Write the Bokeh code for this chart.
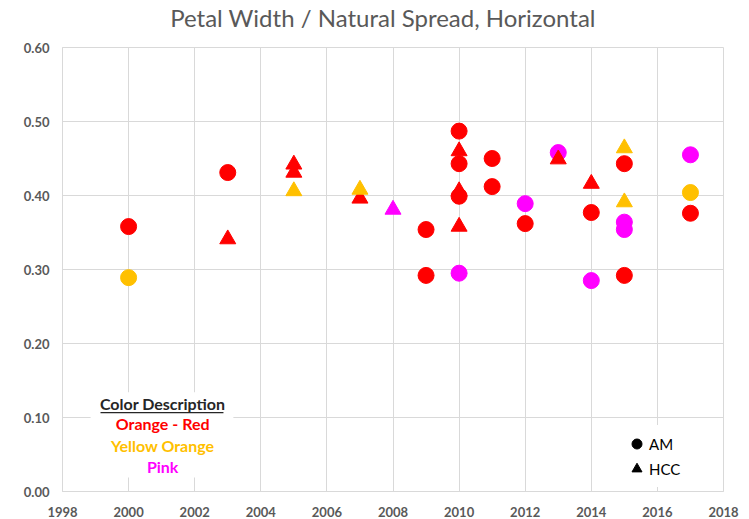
from bokeh.plotting import figure
from bokeh.models import (Label, BoxAnnotation, Legend, LegendItem,
                          FixedTicker, NumeralTickFormatter, Range1d)
from bokeh.embed import file_html
from bokeh.resources import INLINE

TITLE = "Petal Width / Natural Spread, Horizontal"

# AM (circles)
am_red_year = [2000, 2003, 2009, 2009, 2010, 2010, 2010, 2011, 2011, 2012, 2014, 2015, 2015, 2017]
am_red_val = [0.358, 0.431, 0.354, 0.292, 0.487, 0.443, 0.399, 0.450, 0.412, 0.362, 0.377, 0.443, 0.292, 0.376]
am_yellow_year = [2000, 2017]
am_yellow_val = [0.289, 0.404]
am_pink_year = [2010, 2012, 2013, 2014, 2015, 2015, 2017]
am_pink_val = [0.295, 0.389, 0.458, 0.285, 0.364, 0.354, 0.455]

# HCC (triangles)
hcc_red_year = [2003, 2005, 2005, 2007, 2010, 2010, 2010, 2013, 2014]
hcc_red_val = [0.341, 0.442, 0.431, 0.396, 0.460, 0.406, 0.358, 0.449, 0.416]
hcc_yellow_year = [2005, 2007, 2015, 2015]
hcc_yellow_val = [0.406, 0.408, 0.464, 0.391]
hcc_pink_year = [2008]
hcc_pink_val = [0.381]

x_ticks = [1998, 2000, 2002, 2004, 2006, 2008, 2010, 2012, 2014, 2016, 2018]
y_ticks = [0.0, 0.1, 0.2, 0.3, 0.4, 0.5, 0.6]

color_names = ["Orange - Red", "Yellow Orange", "Pink"]
RED, YELLOW, PINK = "#FF0000", "#FFC000", "#FF00FF"
colors = [RED, YELLOW, PINK]

GRID = "#D9D9D9"
TXT = "#595959"
FONT = "Lato"

p = figure(width=749, height=519, output_backend="svg", toolbar_location=None,
           x_range=Range1d(1998, 2018), y_range=Range1d(0, 0.6),
           min_border_left=62, min_border_right=26, min_border_top=47, min_border_bottom=28,
           title=TITLE, background_fill_color="white", border_fill_color="white")

p.title.text_font = FONT
p.title.text_font_size = "24px"
p.title.text_font_style = "normal"
p.title.text_color = TXT
p.title.align = "center"
p.title.standoff = 0
p.title.padding = (0, 20, 0, 16)

p.outline_line_color = GRID
for ax in (p.xaxis[0], p.yaxis[0]):
    ax.axis_line_color = GRID
    ax.major_tick_line_color = None
    ax.minor_tick_line_color = None
    ax.major_tick_out = 0
    ax.major_tick_in = 0
    ax.major_label_text_font = FONT
    ax.major_label_text_font_size = "13px"
    ax.major_label_text_font_style = "bold"
    ax.major_label_text_color = TXT
p.xaxis[0].ticker = FixedTicker(ticks=x_ticks)
p.yaxis[0].ticker = FixedTicker(ticks=y_ticks)
p.yaxis[0].formatter = NumeralTickFormatter(format="0.00")
p.xaxis[0].major_label_standoff = 15
p.yaxis[0].major_label_standoff = 13
p.xgrid.grid_line_color = GRID
p.ygrid.grid_line_color = GRID

# white background behind the colour key
p.add_layout(BoxAnnotation(left=1998.85, right=2003.17, bottom=0.019, top=0.134,
                           fill_color="white", fill_alpha=1, line_color=None, level="underlay"))

S = 16
for yrs, vals, c in [(am_red_year, am_red_val, RED), (am_yellow_year, am_yellow_val, YELLOW),
                     (am_pink_year, am_pink_val, PINK)]:
    p.scatter(x=yrs, y=vals, marker="circle", size=S, fill_color=c, line_color=c)
for yrs, vals, c in [(hcc_red_year, hcc_red_val, RED), (hcc_yellow_year, hcc_yellow_val, YELLOW),
                     (hcc_pink_year, hcc_pink_val, PINK)]:
    p.scatter(x=yrs, y=vals, marker="triangle", size=S, fill_color=c, line_color=c)

# Color description key
p.add_layout(Label(x=2001.03, y=0.119, text="Color Description", text_align="center",
                   text_baseline="middle", text_font=FONT, text_font_size="16px",
                   text_font_style="bold", text_color="#262626"))
p.add_layout(BoxAnnotation(left=1999.15, right=2002.87, bottom=0.1058, top=0.1074,
                           fill_color="#262626", fill_alpha=1, line_color=None))
for name, c, yy in zip(color_names, colors, [0.092, 0.062, 0.034]):
    p.add_layout(Label(x=2001.03, y=yy, text=name, text_align="center", text_baseline="middle",
                       text_font=FONT, text_font_size="16px", text_font_style="bold", text_color=c))

# Marker key
nan = float("nan")
r_am = p.scatter(x=[nan], y=[nan], marker="circle", size=10, fill_color="black", line_color="black")
r_hcc = p.scatter(x=[nan], y=[nan], marker="triangle", size=10, fill_color="black", line_color="black")
leg = Legend(items=[LegendItem(label="AM", renderers=[r_am]),
                    LegendItem(label="HCC", renderers=[r_hcc])],
             location=(556, 4), glyph_width=25, glyph_height=25, spacing=-3, padding=6, margin=0,
             label_standoff=0, label_text_font=FONT, label_text_font_size="15px",
             label_text_color="black", border_line_alpha=0,
             background_fill_color="white", background_fill_alpha=1)
p.add_layout(leg)

open("out.html", "w").write(file_html(p, INLINE))
